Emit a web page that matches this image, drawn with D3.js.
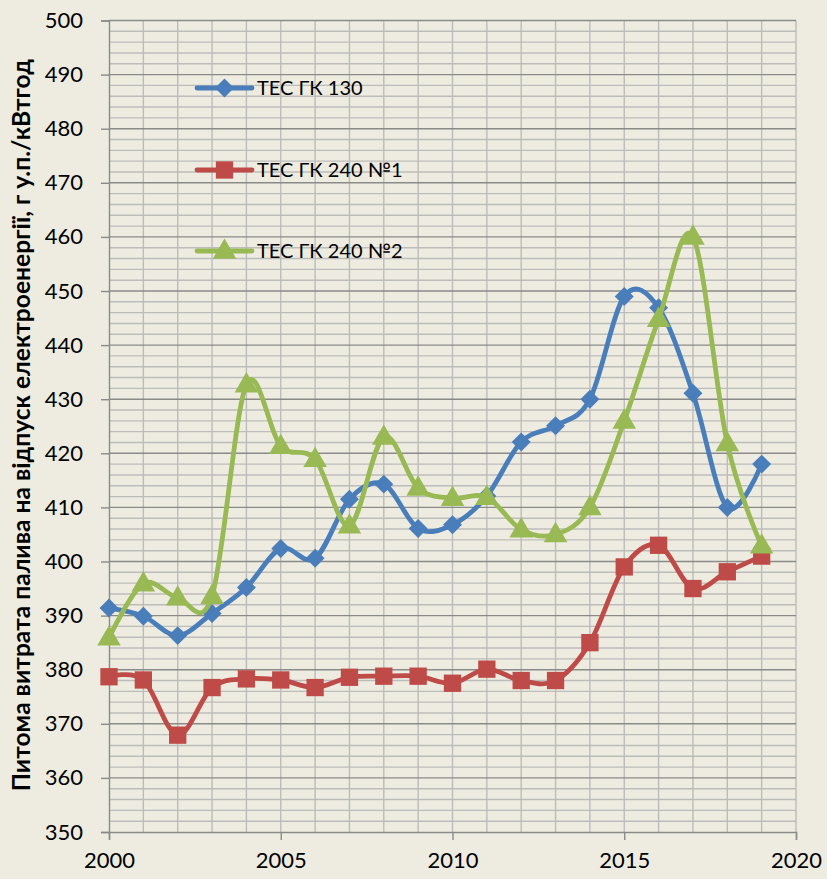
<!DOCTYPE html>
<html>
<head>
<meta charset="utf-8">
<script src="https://cdn.jsdelivr.net/npm/d3@7"></script>
<style>
  html, body { margin: 0; padding: 0; background: #EEECE1; }
  svg { display: block; }
  text { font-family: Lato, "Open Sans", sans-serif; fill: #000; }
</style>
</head>
<body>
<svg id="chart" width="827" height="879"></svg>
<script>
// Years on the x axis
const years = [2000, 2001, 2002, 2003, 2004, 2005, 2006, 2007, 2008, 2009,
               2010, 2011, 2012, 2013, 2014, 2015, 2016, 2017, 2018, 2019];

// Specific fuel consumption, g c.e./kWh
const tes130 = [391.4, 389.9, 386.3, 390.4, 395.2, 402.4, 400.6, 411.5, 414.3, 406.1,
                406.8, 412.1, 422.1, 425.1, 430.0, 449.0, 446.9, 431.1, 410.0, 418.0];
const tes240n1 = [378.7, 378.1, 367.9, 376.7, 378.3, 378.1, 376.7, 378.6, 378.8, 378.8,
                  377.5, 380.1, 378.0, 378.0, 385.0, 399.0, 403.0, 395.0, 398.1, 401.0];
const tes240n2 = [385.9, 395.9, 393.3, 393.6, 432.7, 421.3, 418.9, 406.6, 423.0, 413.6,
                  411.7, 411.9, 405.9, 405.0, 410.0, 426.0, 444.8, 460.0, 421.8, 402.9];

const seriesNames = ["ТЕС ГК 130", "ТЕС ГК 240 №1", "ТЕС ГК 240 №2"];

// Axis tick labels
const xTickYears = [2000, 2005, 2010, 2015, 2020];
const yTickValues = [350, 360, 370, 380, 390, 400, 410, 420, 430, 440, 450, 460, 470, 480, 490, 500];
const yTitle = "Питома витрата палива на відпуск електроенергії, г у.п./кВтгод";

const series = [
  { name: seriesNames[0], values: tes130,   color: "#4A7EBB", marker: "diamond" },
  { name: seriesNames[1], values: tes240n1, color: "#BE4B48", marker: "square" },
  { name: seriesNames[2], values: tes240n2, color: "#98B954", marker: "triangle" }
];

const svg = d3.select("#chart");
const plot = { left: 109, right: 796, top: 20.5, bottom: 832 };

const x = d3.scaleLinear().domain([2000, 2020]).range([plot.left, plot.right]);
const y = d3.scaleLinear().domain([350, 500]).range([plot.bottom, plot.top]);

// Gridlines: minor horizontals every 2, majors every 10, verticals every year
const grid = svg.append("g");
const minorY = d3.range(352, 500, 2).filter(v => v % 10 !== 0);
grid.selectAll("line.minor-y").data(minorY).join("line")
  .attr("x1", plot.left).attr("x2", plot.right)
  .attr("y1", d => y(d)).attr("y2", d => y(d))
  .attr("stroke", "#BCBCBA").attr("stroke-width", 1.4);
grid.selectAll("line.vx").data(d3.range(2001, 2021)).join("line")
  .attr("x1", d => x(d)).attr("x2", d => x(d))
  .attr("y1", plot.top).attr("y2", plot.bottom)
  .attr("stroke", "#BCBCBA").attr("stroke-width", 1.4);
grid.selectAll("line.major-y").data(yTickValues.filter(v => v > 350)).join("line")
  .attr("x1", plot.left).attr("x2", plot.right)
  .attr("y1", d => y(d)).attr("y2", d => y(d))
  .attr("stroke", "#8A8A88").attr("stroke-width", 1.4);

// Y axis
const yAxis = d3.axisLeft(y).tickValues(yTickValues).tickSize(8).tickPadding(18)
  .tickFormat(d3.format("d"));
const gy = svg.append("g").attr("transform", `translate(${plot.left},0)`).call(yAxis);
gy.select(".domain").attr("stroke", "#8A8A88").attr("stroke-width", 1.4);
gy.selectAll(".tick line").attr("stroke", "#8A8A88").attr("stroke-width", 1.4);
gy.selectAll(".tick text").attr("font-size", 22).attr("font-family", "Lato, sans-serif").attr("fill", "#000");

// X axis
const xAxis = d3.axisBottom(x).tickValues(xTickYears).tickSize(8).tickPadding(12)
  .tickFormat(d3.format("d"));
const gx = svg.append("g").attr("transform", `translate(0,${plot.bottom})`).call(xAxis);
gx.select(".domain").attr("stroke", "#8A8A88").attr("stroke-width", 1.4);
gx.selectAll(".tick line").attr("stroke", "#8A8A88").attr("stroke-width", 1.4);
gx.selectAll(".tick text").attr("font-size", 22).attr("font-family", "Lato, sans-serif").attr("fill", "#000");

// Y axis title
svg.append("text")
  .attr("transform", `translate(30,${(plot.top + plot.bottom) / 2 - 1}) rotate(-90)`)
  .attr("text-anchor", "middle")
  .attr("font-weight", "bold")
  .attr("font-size", 24.6)
  .text(yTitle);

// Marker shapes
function markerPath(kind) {
  if (kind === "diamond") return d3.symbol().type(d3.symbolSquare).size(180)();
  if (kind === "square") return d3.symbol().type(d3.symbolSquare).size(300)();
  return d3.symbol().type(d3.symbolTriangle).size(240)();
}
function markerTransform(kind, px, py) {
  if (kind === "diamond") return `translate(${px},${py}) rotate(45)`;
  if (kind === "triangle") return `translate(${px},${py + 1})`;
  return `translate(${px},${py})`;
}

const line = d3.line()
  .x((d, i) => x(years[i]))
  .y(d => y(d))
  .curve(d3.curveCardinal.tension(0));

series.forEach(s => {
  const g = svg.append("g");
  g.append("path")
    .attr("d", line(s.values))
    .attr("fill", "none")
    .attr("stroke", s.color)
    .attr("stroke-width", 4.8)
    .attr("stroke-linejoin", "round");
  g.selectAll("path.marker").data(s.values).join("path")
    .attr("class", "marker")
    .attr("d", markerPath(s.marker))
    .attr("transform", (d, i) => markerTransform(s.marker, x(years[i]), y(d)))
    .attr("fill", s.color);
});

// Legend
const legendY = [88, 170, 251];
series.forEach((s, i) => {
  const g = svg.append("g").attr("transform", `translate(0,${legendY[i]})`);
  g.append("line").attr("x1", 197).attr("x2", 252).attr("y1", 0).attr("y2", 0)
    .attr("stroke", s.color).attr("stroke-width", 4.8).attr("stroke-linecap", "round");
  g.append("path").attr("d", markerPath(s.marker))
    .attr("transform", markerTransform(s.marker, 224.5, 0))
    .attr("fill", s.color);
  g.append("text").attr("x", 257).attr("y", 0).attr("dy", "0.36em")
    .attr("font-size", 20).text(s.name);
});
</script>
</body>
</html>
